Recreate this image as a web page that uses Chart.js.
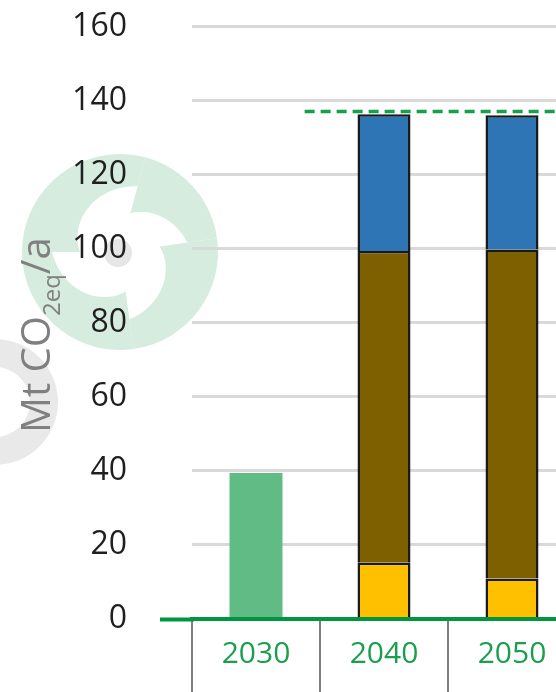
<!DOCTYPE html>
<html>
<head>
<meta charset="utf-8">
<script src="https://cdn.jsdelivr.net/npm/chart.js@4.4.1/dist/chart.umd.min.js"></script>
<style>
  html, body { margin: 0; padding: 0; background: #fff; width: 556px; height: 692px; overflow: hidden; }
  #wrap { position: relative; width: 620px; height: 692px; }
</style>
</head>
<body>
<div id="wrap"><canvas id="chart"></canvas></div>
<script>
// --- Data (Mt CO2eq/a) ---
const years = ['2030', '2040', '2050'];
const target2030 = [39.3, null, null];
const segYellow = [null, 15.1, 10.8];
const segBrown = [null, 84.2, 88.9];
const segBlue = [null, 37.0, 36.3];
const capLevel = 137;
const yTicks = [0, 20, 40, 60, 80, 100, 120, 140, 160];

const FONT = '"Open Sans", "Segoe UI", sans-serif';

// --- Watermark (decorative logo behind the chart) ---
const watermark = {
  id: 'watermark',
  beforeDraw(chart) {
    const ctx = chart.ctx;
    ctx.save();
    // gray ring on the left
    ctx.fillStyle = '#e9e9e9';
    ctx.beginPath();
    ctx.arc(-5, 402, 63, 0, Math.PI * 2);
    ctx.arc(-5, 402, 35, 0, Math.PI * 2, true);
    ctx.fill();
    // green swirl: arms whose inner edge spirals outward
    ctx.fillStyle = '#d6ecdf';
    const cx = 120, cy = 252;
    const cuts = [-75, -8, 82, 180, 285];
    for (let k = 0; k < 4; k++) {
      const a0 = cuts[k] * Math.PI / 180;
      const a1 = cuts[k + 1] * Math.PI / 180;
      ctx.beginPath();
      ctx.arc(cx, cy, 98, a0, a1);
      const n = 24;
      for (let i = n; i >= 0; i--) {
        const a = a0 + (a1 - a0) * i / n;
        const r = 40 + 28 * i / n;
        ctx.lineTo(cx + r * Math.cos(a), cy + r * Math.sin(a));
      }
      ctx.closePath();
      ctx.fill();
    }
    ctx.fillStyle = '#e6e6e6';
    ctx.beginPath();
    ctx.arc(118, 253, 14, 0, Math.PI * 2);
    ctx.fill();
    ctx.restore();
  }
};

// --- Y axis title with subscript ---
const axisTitle = {
  id: 'axisTitle',
  afterDraw(chart) {
    const ctx = chart.ctx;
    ctx.save();
    ctx.translate(50, 433);
    ctx.rotate(-Math.PI / 2);
    ctx.fillStyle = '#808080';
    ctx.textBaseline = 'alphabetic';
    ctx.textAlign = 'left';
    let x = 0;
    ctx.font = '40px ' + FONT;
    ctx.fillText('Mt CO', x, 0);
    x += ctx.measureText('Mt CO').width;
    ctx.font = '24px ' + FONT;
    ctx.fillText('2eq', x, 10);
    x += ctx.measureText('2eq').width;
    ctx.font = '40px ' + FONT;
    ctx.fillText('/a', x, 0);
    ctx.restore();
  }
};

// --- Dashed cap line + baseline extension ---
const extras = {
  id: 'extras',
  afterDatasetsDraw(chart) {
    const ctx = chart.ctx;
    const xs = chart.scales.x;
    const ys = chart.scales.y;
    const y = ys.getPixelForValue(capLevel);
    ctx.save();
    ctx.strokeStyle = '#16a04c';
    ctx.lineWidth = 3.5;
    ctx.setLineDash([10, 6]);
    ctx.beginPath();
    ctx.moveTo(xs.getPixelForValue(0.38), y);
    ctx.lineTo(xs.getPixelForValue(2.9), y);
    ctx.stroke();
    ctx.setLineDash([]);
    // baseline reaches a bit left of the first category
    const y0 = ys.getPixelForValue(0) + 1;
    ctx.strokeStyle = '#00963e';
    ctx.lineWidth = 4;
    ctx.beginPath();
    ctx.moveTo(xs.left - 32, y0);
    ctx.lineTo(xs.left + 2, y0);
    ctx.stroke();
    ctx.restore();
  }
};

const ctx = document.getElementById('chart').getContext('2d');
new Chart(ctx, {
  type: 'bar',
  data: {
    labels: years,
    datasets: [
      { label: '2030', data: target2030, backgroundColor: '#60bb84', borderWidth: 0 },
      { label: 'yellow', data: segYellow, backgroundColor: '#ffc000', borderColor: '#1a1a1a', borderWidth: 2.5, borderSkipped: 'start' },
      { label: 'brown', data: segBrown, backgroundColor: '#7f6000', borderColor: '#1a1a1a', borderWidth: 2.5, borderSkipped: 'start' },
      { label: 'blue', data: segBlue, backgroundColor: '#2e75b6', borderColor: '#1a1a1a', borderWidth: 2.5, borderSkipped: 'start' },
    ],
  },
  options: {
    responsive: true,
    maintainAspectRatio: false,
    animation: false,
    layout: { padding: { top: 26.5, right: 44, left: 0, bottom: 0 } },
    datasets: { bar: { categoryPercentage: 1, barPercentage: 0.414 } },
    plugins: { legend: { display: false }, tooltip: { enabled: false } },
    scales: {
      x: {
        stacked: true,
        afterFit: (s) => { s.height = 73.5; s.paddingLeft = 0; s.paddingRight = 0; },
        grid: {
          offset: true,
          drawOnChartArea: false,
          tickLength: 80,
          color: '#808080',
          lineWidth: 2,
        },
        border: { display: true, color: '#00963e', width: 4, z: 1 },
        ticks: { color: '#1a9e4f', padding: -62, font: { family: FONT, size: 30 } },
      },
      y: {
        stacked: true,
        min: 0,
        max: 160,
        afterFit: (s) => { s.width = 192; s.paddingTop = 0; s.paddingBottom = 0; },
        afterBuildTicks: (s) => { s.ticks = yTicks.map(v => ({ value: v })); },
        grid: { color: '#d9d9d9', lineWidth: 3, drawTicks: false },
        border: { display: false },
        ticks: { color: '#1f1f1f', padding: 65, font: { family: FONT, size: 32 } },
      },
    },
  },
  plugins: [watermark, axisTitle, extras],
});
</script>
</body>
</html>
